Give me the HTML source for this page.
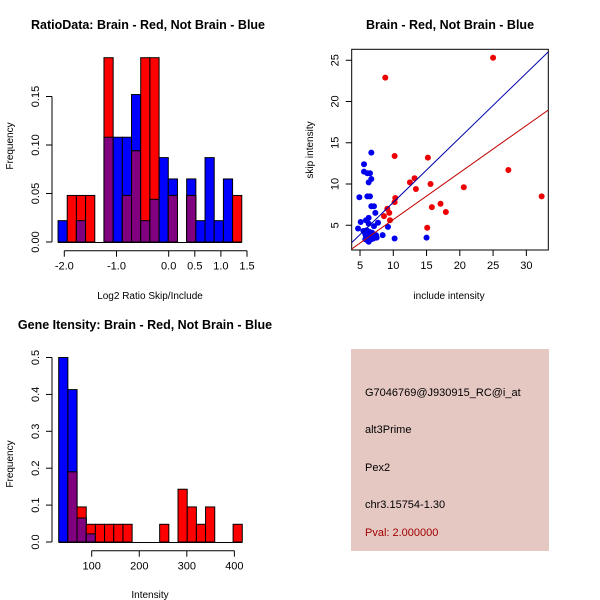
<!DOCTYPE html>
<html><head><meta charset="utf-8"><style>
body{margin:0;background:#fff}
svg{display:block;font-family:"Liberation Sans",sans-serif}
</style></head><body>
<svg id="s" width="600" height="600" xmlns="http://www.w3.org/2000/svg">
<rect width="600" height="600" fill="#fff"/>
<text x="148" y="29" font-size="12.5" font-weight="bold" text-anchor="middle">RatioData: Brain - Red, Not Brain - Blue</text>
<text x="450" y="29" font-size="12.5" font-weight="bold" text-anchor="middle">Brain - Red, Not Brain - Blue</text>
<text x="145" y="329" font-size="12.5" font-weight="bold" text-anchor="middle">Gene Itensity: Brain - Red, Not Brain - Blue</text>
<text x="150" y="299" font-size="10" text-anchor="middle">Log2 Ratio Skip/Include</text>
<text transform="translate(13,146) rotate(-90)" font-size="10" text-anchor="middle">Frequency</text>
<text x="449" y="299" font-size="10" text-anchor="middle">include intensity</text>
<text transform="translate(313,150) rotate(-90)" font-size="10" text-anchor="middle">skip intensity</text>
<text x="150" y="598" font-size="10" text-anchor="middle">Intensity</text>
<text transform="translate(13,464) rotate(-90)" font-size="10" text-anchor="middle">Frequency</text>
<g>
<rect x="351" y="349" width="198" height="202" fill="#E6C8C3"/>
<text x="365" y="396" font-size="11">G7046769@J930915_RC@i_at</text>
<text x="365" y="433" font-size="11">alt3Prime</text>
<text x="365" y="471" font-size="11">Pex2</text>
<text x="365" y="508" font-size="11">chr3.15754-1.30</text>
<text x="365" y="536" font-size="11" fill="#A00000">Pval: 2.000000</text>
</g>
</svg>
<script>
// Ratio histogram data
const ratioBinStart = -2.12;
const ratioBinWidth = 0.176;
const ratioBlue = [0.022,0,0.022,0,0,0.108,0.108,0.108,0.152,0.022,0.044,0.087,0.065,0,0.065,0.022,0.087,0.022,0.065,0];
const ratioRed  = [0,0.048,0.048,0.048,0,0.19,0,0.048,0.094,0.19,0.19,0,0.048,0,0.048,0,0,0,0,0.048];
const ratioXTicks = [-2.0,-1.0,0.0,0.5,1.0,1.5];
const ratioXLabels = ["-2.0","-1.0","0.0","0.5","1.0","1.5"];
const ratioYTicks = [0,0.05,0.10,0.15];
const ratioYLabels = ["0.00","0.05","0.10","0.15"];
// Intensity histogram data
const intBinStart = 30.6;
const intBinWidth = 19.3;
const intBlue = [0.5,0.413,0.065,0.022,0,0,0,0,0,0,0,0,0,0,0,0,0,0,0,0];
const intRed  = [0,0.19,0.095,0.048,0.048,0.048,0.048,0.048,0,0,0,0.048,0,0.143,0.095,0.048,0.095,0,0,0.048];
const intXTicks = [100,200,300,400];
const intYTicks = [0,0.1,0.2,0.3,0.4,0.5];
const intYLabels = ["0.0","0.1","0.2","0.3","0.4","0.5"];
// Scatter data
const redX = [8.8,25,10.2,15.2,13.2,12.5,13.4,15.6,20.6,27.3,32.3,10.3,10.2,9.1,9.4,8.6,9.5,15.8,17.1,17.9,15.1];
const redY = [22.9,25.3,13.4,13.2,10.7,10.2,9.4,10.0,9.6,11.7,8.5,8.3,7.8,7.0,6.5,6.1,5.6,7.2,7.6,6.6,4.7];
const blueX = [6.7,5.6,5.6,6.1,6.5,6.7,6.3,4.9,6.1,6.5,6.7,7.1,7.3,6.3,5.9,5.1,4.7,6.3,7.7,7.1,9.2,5.5,6,6.4,6.8,5.8,6.2,6.6,7.2,7.5,8.4,5.8,6.2,6.7,7,10.2,15,6.3,5.9,6.9,7.4];
const blueY = [13.8,12.4,11.5,11.3,11.3,10.6,10.2,8.4,8.5,8.5,7.3,7.3,6.5,5.9,5.6,5.4,4.6,5.2,5.3,4.9,4.8,4.3,4.4,4.2,4.1,3.9,3.7,3.6,3.6,3.5,3.8,3.3,3.1,3.3,3.4,3.4,3.5,3.0,3.7,3.9,3.8];
const blueFit = [0.783,-0.05];
const redFit = [0.570,-0.01];
const scXTicks = [5,10,15,20,25,30];
const scYTicks = [5,10,15,20,25];

const NS="http://www.w3.org/2000/svg";
const svg=document.getElementById('s');
function mk(tag,attrs,parent){const e=document.createElementNS(NS,tag);for(const k in attrs)e.setAttribute(k,attrs[k]);(parent||svg).appendChild(e);return e;}

function hist(o){
  const g=mk('g',{});
  
  
  const xs=v=>o.x0+(v-o.xv0)*o.xk, ys=v=>o.y0-v*o.yk;
  for(let i=0;i<o.blue.length;i++){
    const a=xs(o.bs+i*o.bw), b=xs(o.bs+(i+1)*o.bw);
    const bl=o.blue[i], rd=o.red[i], mn=Math.min(bl,rd);
    if(bl>0){const r=mk('rect',{x:a,y:ys(bl),width:b-a,height:ys(0)-ys(bl),fill:'#0000FF',stroke:'#000','stroke-width':1},g);
      
      }
    if(rd>0){const r=mk('rect',{x:a,y:ys(rd),width:b-a,height:ys(0)-ys(rd),fill:'#FF0000',stroke:'#000','stroke-width':1},g);
      
      }
    if(mn>0){const r=mk('rect',{x:a,y:ys(mn),width:b-a,height:ys(0)-ys(mn),fill:'#800080',stroke:'#000','stroke-width':1},g);
      
      }
  }
  mk('line',{x1:xs(o.bs),x2:xs(o.bs+o.blue.length*o.bw),y1:o.y0+0.5,y2:o.y0+0.5,stroke:'#000'},g);
  const ax=mk('g',{},g);
  
  
  const xa=o.xt[0], xb=o.xt[o.xt.length-1];
  mk('line',{x1:xs(xa),x2:xs(xb),y1:o.axY,y2:o.axY,stroke:'#000'},ax);
  o.xt.forEach((t,i)=>{mk('line',{x1:xs(t),x2:xs(t),y1:o.axY,y2:o.axY+6,stroke:'#000'},ax);
    const tx=mk('text',{x:xs(t),y:o.axY+19,'font-size':11,'text-anchor':'middle'},ax);tx.textContent=o.xl[i];});
  const ay=mk('g',{},g);
  
  
  mk('line',{x1:52,x2:52,y1:ys(0),y2:ys(o.yt[o.yt.length-1]),stroke:'#000'},ay);
  o.yt.forEach((t,i)=>{mk('line',{x1:46,x2:52,y1:ys(t),y2:ys(t),stroke:'#000'},ay);
    const tx=mk('text',{transform:`translate(39,${ys(t)}) rotate(-90)`,'font-size':11,'text-anchor':'middle'},ay);tx.textContent=o.yl[i];});
}
hist({name:'ratio-histogram',blue:ratioBlue,red:ratioRed,bs:ratioBinStart,bw:ratioBinWidth,x0:64.3,xv0:-2,xk:52.2,y0:242,yk:970,axY:250.7,xt:ratioXTicks,xl:ratioXLabels,yt:ratioYTicks,yl:ratioYLabels});
hist({name:'intensity-histogram',blue:intBlue,red:intRed,bs:intBinStart,bw:intBinWidth,x0:91.7,xv0:100,xk:0.4756,y0:542,yk:369,axY:550.7,xt:intXTicks,xl:intXTicks.map(String),yt:intYTicks,yl:intYLabels});

// scatter
const sg=mk('g',{});


const L=351.7,R=548.3,T=49.3,B=250, xmin=3.75,xmax=33.3,ymin=2.0,ymax=26.33;
const sx=v=>L+(v-xmin)/(xmax-xmin)*(R-L), sy=v=>B-(v-ymin)/(ymax-ymin)*(B-T);
mk('rect',{x:L,y:T,width:R-L,height:B-T,fill:'none',stroke:'#000'},sg);
const clip=mk('clipPath',{id:'cp'},sg);mk('rect',{x:L,y:T,width:R-L,height:B-T},clip);
blueX.forEach((x,i)=>{const c=mk('circle',{cx:sx(x),cy:sy(blueY[i]),r:3,fill:'#0000EE'},sg);
  
  });
redX.forEach((x,i)=>{const c=mk('circle',{cx:sx(x),cy:sy(redY[i]),r:3,fill:'#EE0000'},sg);
  
  });
[[blueFit,'#0000AA','blue-fit-line'],[redFit,'#C00000','red-fit-line']].forEach(([f,col,n])=>{
  const l=mk('line',{x1:sx(xmin),y1:sy(f[0]*xmin+f[1]),x2:sx(xmax),y2:sy(f[0]*xmax+f[1]),stroke:col,'stroke-width':1,'clip-path':'url(#cp)'},sg);
  
  });
scXTicks.forEach(t=>{mk('line',{x1:sx(t),x2:sx(t),y1:B,y2:B+6,stroke:'#000'},sg);
  const tx=mk('text',{x:sx(t),y:B+19,'font-size':11,'text-anchor':'middle'},sg);tx.textContent=t;});
scYTicks.forEach(t=>{mk('line',{x1:L-6,x2:L,y1:sy(t),y2:sy(t),stroke:'#000'},sg);
  const tx=mk('text',{transform:`translate(${L-13},${sy(t)}) rotate(-90)`,'font-size':11,'text-anchor':'middle'},sg);tx.textContent=t;});
</script>
</body></html>
